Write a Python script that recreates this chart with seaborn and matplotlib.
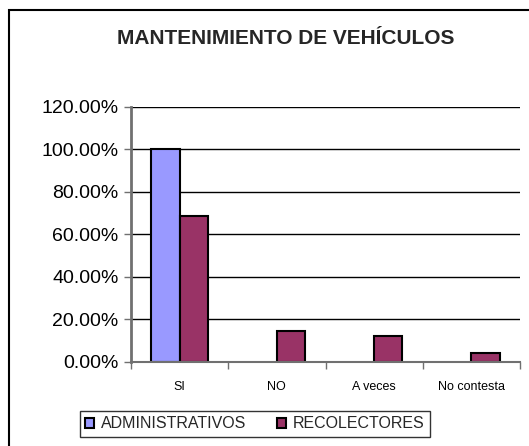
import matplotlib
matplotlib.use("Agg")
import matplotlib.pyplot as plt
import seaborn as sns
import pandas as pd
from matplotlib.ticker import PercentFormatter, FixedLocator
from matplotlib.patches import Patch, Rectangle

categories = ["SI", "NO", "A veces", "No contesta"]
administrativos = [100.0, 0.0, 0.0, 0.0]
recolectores = [68.6, 14.5, 12.4, 4.4]
series_names = ["ADMINISTRATIVOS", "RECOLECTORES"]
colors = ["#9999FF", "#993366"]
title = "MANTENIMIENTO DE VEHÍCULOS"

df = pd.DataFrame({
    "cat": categories * 2,
    "val": administrativos + recolectores,
    "serie": [series_names[0]] * 4 + [series_names[1]] * 4,
})

sns.set_theme(style="white")
plt.rcParams["font.family"] = ["Liberation Sans", "DejaVu Sans"]

fig = plt.figure(figsize=(5.29, 4.46), dpi=100)
ax = fig.add_axes([131/529, 1-362/446, (520-131)/529, (362-106.7)/446])

sns.barplot(data=df, x="cat", y="val", hue="serie", order=categories,
            hue_order=series_names, palette=colors, width=0.58,
            edgecolor="black", linewidth=1.5, ax=ax, legend=False, saturation=1)

for p in ax.patches:
    if p.get_height() == 0:
        p.set_visible(False)

ax.set_ylim(0, 120)
ax.set_xlim(-0.5, 3.5)
ax.yaxis.set_major_locator(FixedLocator([0, 20, 40, 60, 80, 100, 120]))
ax.yaxis.set_major_formatter(PercentFormatter(100, decimals=2))
ax.grid(axis="y", color="black", linewidth=1)
ax.set_axisbelow(True)
ax.set_xlabel("")
ax.set_ylabel("")

for s in ["top", "right"]:
    ax.spines[s].set_visible(False)
ax.spines["left"].set_color("#707070")
ax.spines["left"].set_linewidth(2)
ax.spines["bottom"].set_color("#707070")
ax.spines["bottom"].set_linewidth(1.5)

ax.tick_params(axis="y", which="major", left=True, length=5, width=1,
               color="#707070", labelsize=14, pad=4, labelcolor="black")
ax.set_xticks(range(len(categories)))
ax.set_xticklabels(categories)
ax.tick_params(axis="x", which="major", bottom=False, labelsize=9, pad=8,
               labelcolor="black")
ax.set_xticks([-0.5, 0.5, 1.5, 2.5, 3.5], minor=True)
ax.tick_params(axis="x", which="minor", bottom=True, length=5, width=1,
               color="#707070")

fig.text(286/529, 1-38/446, title, ha="center", va="center",
         fontsize=15, fontweight="bold")

handles = [Patch(facecolor=c, edgecolor="black", linewidth=1.5) for c in colors]
leg = fig.legend(handles, series_names, loc="center", ncol=2,
                 bbox_to_anchor=(255/529, 1-424/446), fontsize=11.5,
                 frameon=True, fancybox=False, edgecolor="black",
                 handlelength=0.55, handleheight=0.55, handletextpad=0.45,
                 columnspacing=1.9, borderpad=0.35)
leg.get_frame().set_linewidth(1)

fig.patches.append(Rectangle((8.5/529, -0.2), 1.2, 1 - 9.5/446 + 0.2,
                             transform=fig.transFigure, fill=False,
                             edgecolor="black", linewidth=1.5))

fig.savefig("out.png", dpi=100)
